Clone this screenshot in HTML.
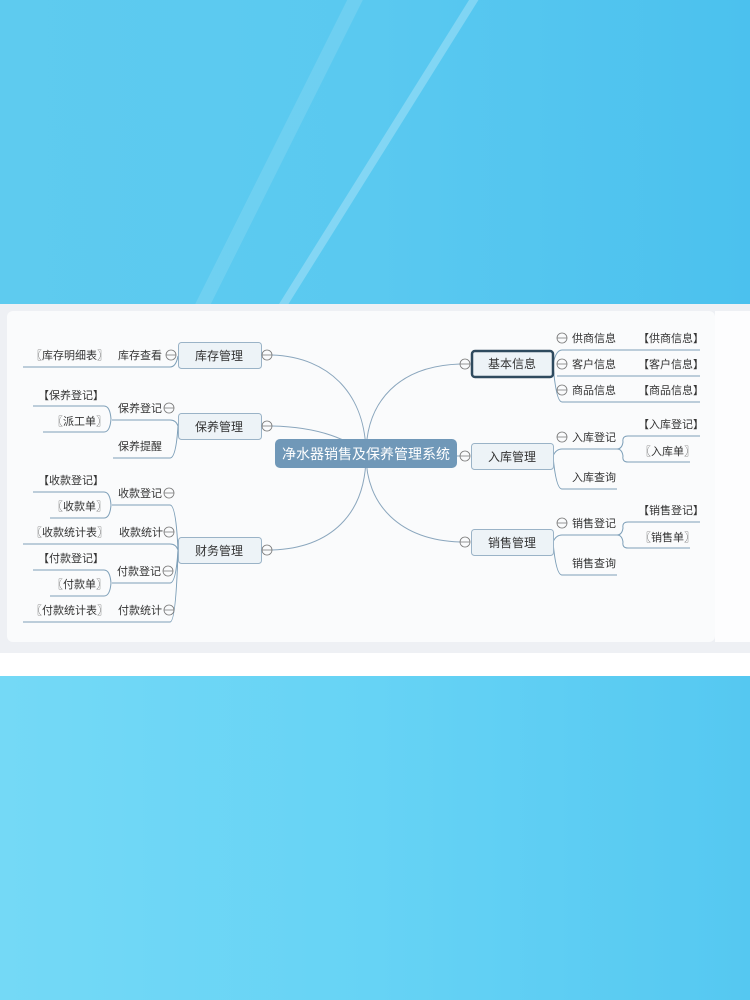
<!DOCTYPE html>
<html><head><meta charset="utf-8"><style>
html,body{margin:0;padding:0}
body{width:750px;height:1000px;position:relative;overflow:hidden;background:#fff;font-family:"Liberation Sans","Noto Sans CJK SC",sans-serif}
.top{position:absolute;left:0;top:0;width:750px;height:304px;background:linear-gradient(90deg,#5ecbef 0%,#5ac9f0 50%,#4bc1ee 100%);overflow:hidden}
.bot{position:absolute;left:0;top:676px;width:750px;height:324px;background:linear-gradient(90deg,#74d9f6 0%,#66d3f5 50%,#55c8f1 100%);overflow:hidden}
.band{position:absolute;left:0;top:304px;width:750px;height:349px;background:#eef0f4}
.card{position:absolute;left:7px;top:311px;width:708px;height:331px;background:#fafbfc;border-radius:6px}
.rw{position:absolute;left:715px;top:311px;width:35px;height:331px;background:#fdfdfe}
svg{position:absolute;left:0;top:0}
</style></head><body>
<div class="top">
<svg width="750" height="304"><line x1="480" y1="-10" x2="280" y2="310" stroke="#fff" stroke-opacity="0.25" stroke-width="8"/><line x1="360" y1="-10" x2="200" y2="310" stroke="#fff" stroke-opacity="0.12" stroke-width="14"/></svg>
</div>
<div class="band"></div>
<div class="card"></div>
<div class="rw"></div>
<div class="bot"></div>
<svg width="750" height="1000" font-size="11" fill="#333">
<g fill="none" stroke="#8aa6bd" stroke-width="1">
<path d="M366,455 C366,395 330,357 272,355"/>
<path d="M366,455 C350,440 320,427 272,426"/>
<path d="M366,455 C366,515 330,548 272,550"/>
<path d="M366,455 C366,400 400,366 460,364"/>
<path d="M366,455 C366,455 420,456 460,456"/>
<path d="M366,455 C366,505 400,540 460,542"/>
</g>
<g fill="none" stroke="#7d9fb8" stroke-width="1">
<!-- left -->
<path d="M23,367 H170 Q176,367 178,356"/>
<path d="M33,406 H104 Q110,406 111,419 Q110,432 104,432 H43"/>
<path d="M112,420 H170 Q176,420 178,426 Q176,458 170,458 H113"/>
<path d="M33,492 H104 Q110,492 111,505 Q110,518 104,518 H50"/>
<path d="M112,505 H170 Q176,505 178,550 Q176,583 170,583 H112"/>
<path d="M23,544 H170 Q176,544 178,550"/>
<path d="M33,570 H104 Q110,570 111,583 Q110,596 104,596 H50"/>
<path d="M23,622 H170 Q176,622 178,550"/>
<!-- right -->
<path d="M553,364 Q556,350 562,350 H700"/>
<path d="M557,376 H700"/>
<path d="M553,364 Q556,402 562,402 H700"/>
<path d="M553,456 Q556,449 562,449 H617 Q622,449 623,442 Q622,436 628,436 H700"/>
<path d="M617,449 Q622,449 623,456 Q622,462 628,462 H690"/>
<path d="M553,456 Q556,489 562,489 H617"/>
<path d="M553,542 Q556,535 562,535 H617 Q622,535 623,528 Q622,522 628,522 H700"/>
<path d="M617,535 Q622,535 623,542 Q622,548 628,548 H690"/>
<path d="M553,542 Q556,575 562,575 H617"/>
</g>
<!-- nodes -->
<rect x="275" y="439" width="182" height="29" rx="5" fill="#7098b8"/>
<text x="366" y="459" font-size="14" fill="#fff" text-anchor="middle">净水器销售及保养管理系统</text>
<g fill="#edf3f7" stroke="#9ab3c7">
<rect x="178.5" y="342.5" width="83" height="26" rx="3"/>
<rect x="178.5" y="413.5" width="83" height="26" rx="3"/>
<rect x="178.5" y="537.5" width="83" height="26" rx="3"/>
<rect x="471.5" y="443.5" width="82" height="26" rx="3"/>
<rect x="471.5" y="529.5" width="82" height="26" rx="3"/>
</g>
<rect x="472" y="351" width="81" height="26" rx="3" fill="#edf3f7" stroke="#2e4a5e" stroke-width="2.5"/>
<g font-size="12" fill="#333" text-anchor="middle">
<text x="219" y="360">库存管理</text><text x="219" y="431">保养管理</text><text x="219" y="555">财务管理</text>
<text x="512" y="368">基本信息</text><text x="512" y="461">入库管理</text><text x="512" y="547">销售管理</text>
</g>
<!-- circles -->
<g fill="#fafbfc" stroke="#777" stroke-width="0.8">
<circle cx="267" cy="355" r="5"/><circle cx="267" cy="426" r="5"/><circle cx="267" cy="550" r="5"/>
<circle cx="465" cy="364" r="5"/><circle cx="465" cy="456" r="5"/><circle cx="465" cy="542" r="5"/>
<circle cx="171" cy="355" r="5"/><circle cx="169" cy="408" r="5"/><circle cx="169" cy="493" r="5"/><circle cx="169" cy="532" r="5"/><circle cx="168" cy="571" r="5"/><circle cx="169" cy="610" r="5"/>
<circle cx="562" cy="338" r="5"/><circle cx="562" cy="364" r="5"/><circle cx="562" cy="390" r="5"/><circle cx="562" cy="437" r="5"/><circle cx="562" cy="523" r="5"/>
</g>
<g stroke="#777" stroke-width="0.8">
<path d="M262,355h10M262,426h10M262,550h10M460,364h10M460,456h10M460,542h10M166,355h10M164,408h10M164,493h10M164,532h10M163,571h10M164,610h10M557,338h10M557,364h10M557,390h10M557,437h10M557,523h10"/>
</g>
<!-- left labels -->
<text x="118" y="359">库存查看</text><text x="31" y="359">〖库存明细表〗</text>
<text x="118" y="412">保养登记</text><text x="38" y="399">【保养登记】</text><text x="52" y="425">〖派工单〗</text>
<text x="118" y="450">保养提醒</text>
<text x="118" y="497">收款登记</text><text x="38" y="484">【收款登记】</text><text x="52" y="510">〖收款单〗</text>
<text x="119" y="536">收款统计</text><text x="31" y="536">〖收款统计表〗</text>
<text x="117" y="575">付款登记</text><text x="38" y="562">【付款登记】</text><text x="52" y="588">〖付款单〗</text>
<text x="118" y="614">付款统计</text><text x="31" y="614">〖付款统计表〗</text>
<!-- right labels -->
<text x="572" y="342">供商信息</text><text x="638" y="342">【供商信息】</text>
<text x="572" y="368">客户信息</text><text x="638" y="368">【客户信息】</text>
<text x="572" y="394">商品信息</text><text x="638" y="394">【商品信息】</text>
<text x="572" y="441">入库登记</text><text x="638" y="428">【入库登记】</text><text x="640" y="455">〖入库单〗</text>
<text x="572" y="481">入库查询</text>
<text x="572" y="527">销售登记</text><text x="638" y="514">【销售登记】</text><text x="640" y="541">〖销售单〗</text>
<text x="572" y="567">销售查询</text>
</svg>
</body></html>
